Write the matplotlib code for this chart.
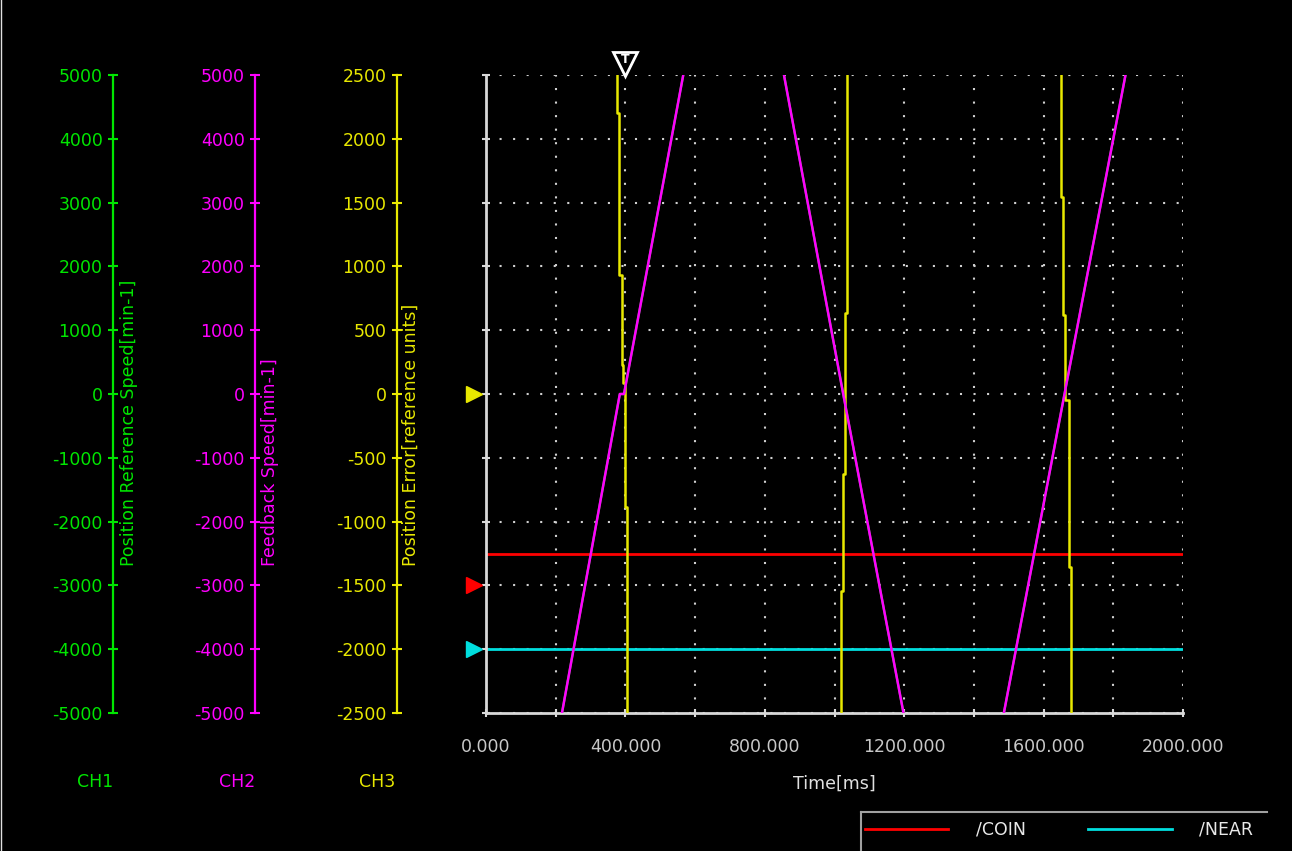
import matplotlib.pyplot as plt
import matplotlib.transforms as mtransforms
from matplotlib.lines import Line2D
import numpy as np

W, H = 1292, 851

# speed ramps, time [ms] / speed [min-1] (CH1 reference, CH2 feedback)
ramp1_t = [218, 384, 396, 566]
ramp1_v = [-5000, 0, 0, 5000]
ramp2_t = [855, 1025, 1198]
ramp2_v = [5000, 0, -5000]
ramp3_t = [1486, 1660, 1835]
ramp3_v = [-5000, 0, 5000]

# position error (CH3): time of each sample column and the levels between them
err1_t = [376.8, 380.8, 390.2, 394.5, 398.9, 403.7]
err1_v = [2500, 2205, 933, 227, 86, -886, -2500]
err2_t = [1018.7, 1025.3, 1030.1, 1036.7]
err2_v = [-2500, -1544, -627, 635, 2500]
err3_t = [1649.8, 1654.6, 1661.2, 1672.7, 1678.5]
err3_v = [2500, 1546, 619, -47, -1353, -2500]

# digital outputs, drawn on CH3 scale above their base level
sig_names = ["/COIN", "/NEAR"]
sig_base = [-1500, -2000]
sig_state = [1, 0]
bit_height = 250
trigger_ms = 400

GREEN = "#00e600"
MAGENTA = "#ff00ff"
YELLOW = "#e8e800"
RED = "#ff0000"
CYAN = "#00dede"
GREY = "#c8c8c8"
FS = 12.5

plt.rcParams["font.family"] = "DejaVu Sans"
plt.rcParams["axes.unicode_minus"] = False

fig = plt.figure(figsize=(W / 100, H / 100), dpi=100, facecolor="black")

bottom = 1 - 713 / H
height = 638 / H


def channel_axis(xpix, lim, step, color, label, label_x, ch, ch_x):
    a = fig.add_axes([xpix / W, bottom, 0.0001, height])
    a.set_facecolor("none")
    for s in ["top", "right", "bottom"]:
        a.spines[s].set_visible(False)
    a.spines["left"].set_color(color)
    a.spines["left"].set_linewidth(1.6)
    a.set_ylim(-lim, lim)
    a.set_yticks(np.arange(-lim, lim + 1, step))
    a.set_xticks([])
    a.tick_params(axis="y", colors=color, direction="inout", length=7,
                  width=1.5, pad=4, labelsize=FS)
    fig.text(label_x / W, 1 - 566 / H, label, rotation=90, color=color,
             ha="center", va="bottom", fontsize=FS)
    fig.text(ch_x / W, 1 - 782 / H, ch, color=color, ha="center",
             va="center", fontsize=FS)


channel_axis(113, 5000, 1000, GREEN, "Position Reference Speed[min-1]", 129, "CH1", 95)
channel_axis(255, 5000, 1000, MAGENTA, "Feedback Speed[min-1]", 270, "CH2", 237)
channel_axis(397, 2500, 500, YELLOW, "Position Error[reference units]", 411, "CH3", 377)

# main trace area, y in CH3 units
ax = fig.add_axes([486 / W, bottom, 697 / W, height])
ax.set_facecolor("none")
ax.set_xlim(0, 2000)
ax.set_ylim(-2500, 2500)
ax.set_xticks(np.arange(0, 2001, 400))
ax.set_xticklabels([f"{v:.3f}" for v in np.arange(0, 2001, 400)])
ax.set_xticks(np.arange(0, 2001, 200), minor=True)
ax.set_yticks(np.arange(-2500, 2501, 500))
ax.set_yticklabels([])
for s in ["top", "right"]:
    ax.spines[s].set_visible(False)
for s in ["left", "bottom"]:
    ax.spines[s].set_color("#d8d8d8")
    ax.spines[s].set_linewidth(2)
ax.tick_params(which="both", colors="#d8d8d8", direction="inout", length=6,
               width=1.5, labelcolor=GREY, labelsize=FS, pad=15)
ax.grid(which="both", color="#d0d0d0", linestyle=(0, (1, 5.5)), linewidth=1.5)

fig.text(834 / W, 1 - 784 / H, "Time[ms]", color="#e0e0e0", ha="center",
         va="center", fontsize=FS)

# digital signals
sig_colors = [RED, CYAN]
for base, state, c in zip(sig_base, sig_state, sig_colors):
    lvl = base + state * bit_height
    ax.plot([0, 2000], [lvl, lvl], color=c, lw=2, zorder=2)


def stair(ts, vs):
    xs, ys = [], []
    for i, t in enumerate(ts):
        xs += [t, t]
        ys += [vs[i], vs[i + 1]]
    return xs, ys


for ts, vs in [(err1_t, err1_v), (err2_t, err2_v), (err3_t, err3_v)]:
    xs, ys = stair(ts, vs)
    ax.plot(xs, ys, color=YELLOW, lw=1.8, zorder=3)

# speed traces on their own scale
sx = ax.twinx()
sx.set_ylim(-5000, 5000)
sx.axis("off")
for ts, vs in [(ramp1_t, ramp1_v), (ramp2_t, ramp2_v), (ramp3_t, ramp3_v)]:
    sx.plot(ts, vs, color=GREEN, lw=1.6, zorder=3)
    sx.plot(ts, vs, color=MAGENTA, lw=1.8, zorder=4)

# base level markers to the left of the trace area
left_tr = mtransforms.blended_transform_factory(ax.transAxes, ax.transData)
for y, c in zip([0] + sig_base, [YELLOW, RED, CYAN]):
    ax.plot([-0.0175], [y], marker=">", ms=11, color=c, mec=c,
            transform=left_tr, clip_on=False)

# trigger marker
top_tr = mtransforms.blended_transform_factory(ax.transData, ax.transAxes)
ax.plot([trigger_ms], [1.017], marker="v", ms=17, mfc="black", mec="white",
        mew=2, transform=top_tr, clip_on=False)
ax.text(trigger_ms, 1.024, "T", color="white", fontsize=9, fontweight="bold",
        ha="center", va="center", transform=top_tr, clip_on=False)

# legend box
lx0, lx1, ly = 861 / W, 1267 / W, 1 - 812 / H
fig.add_artist(Line2D([lx0, lx1], [ly, ly], color="#a0a0a0", lw=1.5))
fig.add_artist(Line2D([lx0, lx0], [ly, 0], color="#a0a0a0", lw=1.5))
for (x0, x1, tx), name, c in zip([(865, 948, 976), (1088, 1172, 1199)],
                                  sig_names, sig_colors):
    yy = 1 - 829 / H
    fig.add_artist(Line2D([x0 / W, x1 / W], [yy, yy], color=c, lw=2))
    fig.text(tx / W, 1 - 830 / H, name, color="#e8e8e8", ha="left",
             va="center", fontsize=FS)

fig.add_artist(Line2D([0.6 / W, 0.6 / W], [0, 1], color="#e0e0e0", lw=1))

fig.savefig("out.png", dpi=100, facecolor="black")
